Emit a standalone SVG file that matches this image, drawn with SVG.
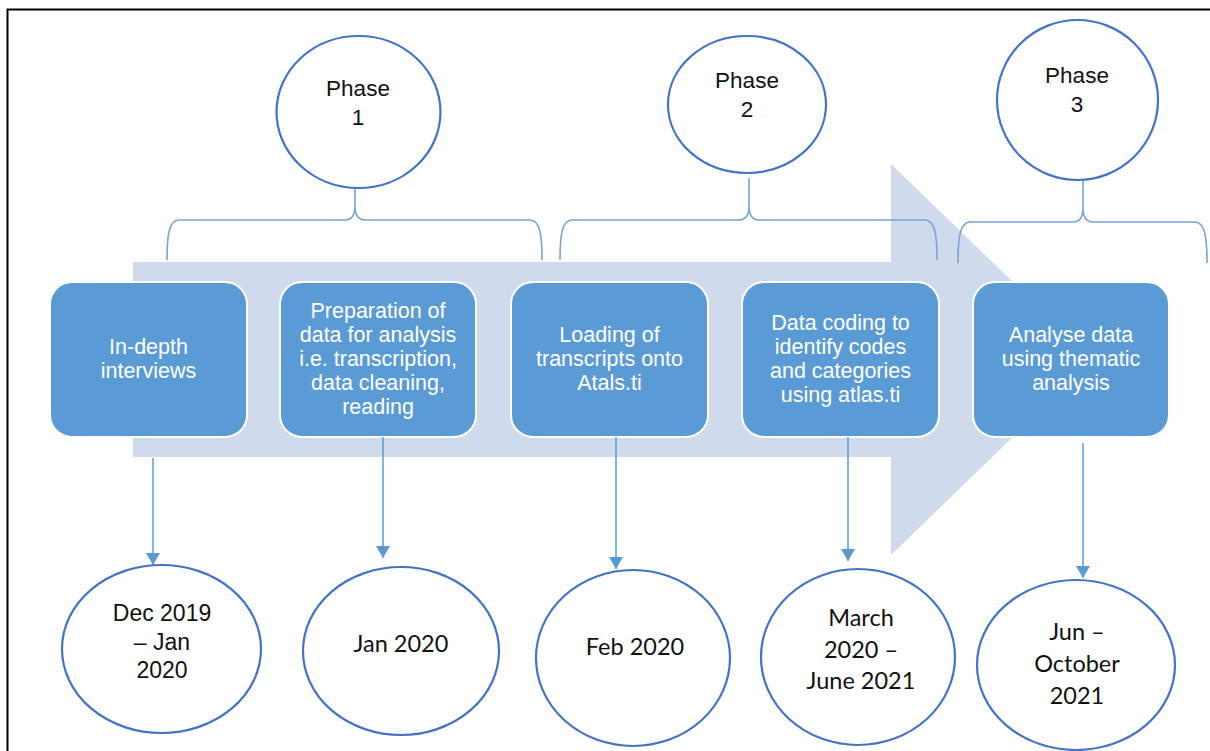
<svg xmlns="http://www.w3.org/2000/svg" width="1210" height="751" viewBox="0 0 1210 751">
  <defs>
    <style>
      .frame { fill: #ffffff; stroke: #000000; stroke-width: 2; }
      .band { fill: #cfdaed; }
      .brace { fill: none; stroke: #7aa3d6; stroke-width: 1.6; }
      .step rect { fill: #5b9bd5; stroke: #ffffff; stroke-width: 2; }
      .step text { font-family: "Liberation Sans", Arial, sans-serif; font-size: 21.5px; fill: #ffffff; text-anchor: middle; }
      .phase ellipse, .date ellipse { fill: #ffffff; stroke: #4472c4; stroke-width: 2.2; }
      .phase text { font-family: "Liberation Sans", Arial, sans-serif; font-size: 22.5px; fill: #111111; text-anchor: middle; }
      .date text { font-family: Lato, "Liberation Sans", sans-serif; font-size: 23.5px; fill: #111111; text-anchor: middle; }
      .date text.arial { font-family: "Liberation Sans", Arial, sans-serif; font-size: 23px; }
      .link { fill: none; stroke: #5b9bd5; stroke-width: 1.5; }
    </style>
    <marker id="head" viewBox="0 0 12 14" refX="12" refY="7" markerWidth="12" markerHeight="14" markerUnits="userSpaceOnUse" orient="auto">
      <path d="M0,0 L12,7 L0,14 Z" fill="#5b9bd5"/>
    </marker>
  </defs>

  <!-- outer frame -->
  <rect class="frame" x="7.5" y="9.5" width="1300" height="800"/>

  <!-- wide process arrow behind the steps -->
  <polygon id="process-arrow" class="band" points="133,262 891,262 891,164 1093,359.5 891,555 891,457 133,457"/>

  <!-- braces grouping the steps under each phase -->
  <g id="braces">
    <path class="brace" d="M167,260 C167,235 169,220 179,220 H345 C352,220 355,214 355,206 V189 M355,206 C355,214 358,220 365,220 H530 C540,220 542,235 542,260"/>
    <path class="brace" d="M560,260 C560,235 562,220 572,220 H739 C746,220 749,214 749,206 V178 M749,206 C749,214 752,220 759,220 H925 C935,220 937,235 937,260"/>
    <path class="brace" d="M958,263 C958,238 960,222 970,222 H1073 C1080,222 1083,216 1083,208 V180 M1083,208 C1083,216 1086,222 1093,222 H1195 C1205,222 1207,238 1207,263"/>
  </g>

  <!-- phase bubbles -->
  <g id="phase-1" class="phase">
    <ellipse cx="358.5" cy="112" rx="82" ry="76"/>
    <text x="358" y="96">Phase</text>
    <text x="358" y="125">1</text>
  </g>
  <g id="phase-2" class="phase">
    <ellipse cx="747" cy="104.5" rx="79" ry="68.5"/>
    <text x="747" y="88">Phase</text>
    <text x="747" y="117">2</text>
  </g>
  <g id="phase-3" class="phase">
    <ellipse cx="1077.5" cy="100" rx="80.5" ry="80"/>
    <text x="1077" y="83">Phase</text>
    <text x="1077" y="112">3</text>
  </g>

  <!-- process steps -->
  <g id="step-interviews" class="step">
    <rect x="50" y="282" width="197" height="155" rx="22"/>
    <text x="148.5" y="354">In-depth</text>
    <text x="148.5" y="378">interviews</text>
  </g>
  <g id="step-preparation" class="step">
    <rect x="280" y="282" width="196" height="155" rx="22"/>
    <text x="378" y="318">Preparation of</text>
    <text x="378" y="342">data for analysis</text>
    <text x="378" y="366">i.e. transcription,</text>
    <text x="378" y="390">data cleaning,</text>
    <text x="378" y="414">reading</text>
  </g>
  <g id="step-loading" class="step">
    <rect x="511" y="282" width="197" height="155" rx="22"/>
    <text x="609.5" y="342">Loading of</text>
    <text x="609.5" y="366">transcripts onto</text>
    <text x="609.5" y="390">Atals.ti</text>
  </g>
  <g id="step-coding" class="step">
    <rect x="742" y="282" width="197" height="155" rx="22"/>
    <text x="840.5" y="330">Data coding to</text>
    <text x="840.5" y="354">identify codes</text>
    <text x="840.5" y="378">and categories</text>
    <text x="840.5" y="402">using atlas.ti</text>
  </g>
  <g id="step-analysis" class="step">
    <rect x="973" y="282" width="196" height="155" rx="22"/>
    <text x="1071" y="342">Analyse data</text>
    <text x="1071" y="366">using thematic</text>
    <text x="1071" y="390">analysis</text>
  </g>

  <!-- connectors from steps to their dates -->
  <g id="connectors">
    <line class="link" x1="153" y1="458" x2="153" y2="565" marker-end="url(#head)"/>
    <line class="link" x1="383" y1="437" x2="383" y2="558" marker-end="url(#head)"/>
    <line class="link" x1="616" y1="437" x2="616" y2="569" marker-end="url(#head)"/>
    <line class="link" x1="848" y1="437" x2="848" y2="561" marker-end="url(#head)"/>
    <line class="link" x1="1083" y1="443" x2="1083" y2="578" marker-end="url(#head)"/>
  </g>

  <!-- date bubbles -->
  <g id="date-1" class="date">
    <ellipse cx="161.5" cy="649" rx="99.5" ry="84"/>
    <text class="arial" x="162" y="621">Dec 2019</text>
    <text class="arial" x="162" y="650">– Jan</text>
    <text class="arial" x="162" y="678">2020</text>
  </g>
  <g id="date-2" class="date">
    <ellipse cx="401" cy="651" rx="98" ry="84"/>
    <text x="401" y="652">Jan 2020</text>
  </g>
  <g id="date-3" class="date">
    <ellipse cx="633" cy="658" rx="97" ry="88"/>
    <text x="635" y="655">Feb 2020</text>
  </g>
  <g id="date-4" class="date">
    <ellipse cx="858" cy="657" rx="97" ry="88"/>
    <text x="861" y="626">March</text>
    <text x="861" y="658">2020 –</text>
    <text x="861" y="689">June 2021</text>
  </g>
  <g id="date-5" class="date">
    <ellipse cx="1076" cy="665" rx="99" ry="85"/>
    <text x="1077" y="640">Jun –</text>
    <text x="1077" y="672">October</text>
    <text x="1077" y="704">2021</text>
  </g>
</svg>
